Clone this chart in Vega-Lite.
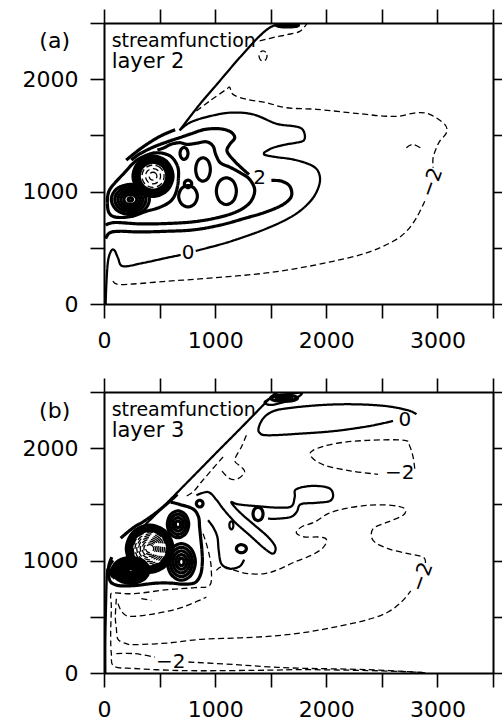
{
"$schema":"https://vega.github.io/schema/vega-lite/v6.json",
"background":"white",
"padding":{"left":22,"top":8,"right":0,"bottom":0},
"spacing":26,
"config":{"view":{"stroke":null},"axis":{"domainColor":"black","domainWidth":2,"tickColor":"black","tickWidth":1.6,"tickSize":14,"labelFont":"DejaVu Sans","labelFontSize":22,"labelColor":"black","labelPadding":12,"labelFlush":false,"labelOverlap":false,"grid":false,"format":"d"}},
"datasets":{
"paths":[
{"id":"a1","p":"a","k":"o","s":"zero"},{"id":"a2","p":"a","k":"o","s":"zero"},{"id":"a3","p":"a","k":"o","s":"zero"},{"id":"a4","p":"a","k":"o","s":"neg"},{"id":"a5","p":"a","k":"o","s":"neg"},{"id":"a6","p":"a","k":"o","s":"neg"},{"id":"a7","p":"a","k":"o","s":"neg"},{"id":"a8","p":"a","k":"o","s":"pos"},{"id":"a9","p":"a","k":"o","s":"pos"},{"id":"a10","p":"a","k":"o","s":"pos"},{"id":"a11","p":"a","k":"o","s":"pos"},
{"id":"a20","p":"a","k":"c","s":"pos"},{"id":"a21","p":"a","k":"c","s":"pos"},{"id":"a22","p":"a","k":"c","s":"pos"},{"id":"a23","p":"a","k":"c","s":"pos"},{"id":"a24","p":"a","k":"c","s":"pos"},{"id":"a25","p":"a","k":"c","s":"pos"},{"id":"a26","p":"a","k":"c","s":"pos"},{"id":"a27","p":"a","k":"c","s":"pos"},{"id":"a28","p":"a","k":"c","s":"pos"},{"id":"a29","p":"a","k":"c","s":"pos"},{"id":"a30","p":"a","k":"c","s":"pos"},{"id":"a31","p":"a","k":"c","s":"pos"},{"id":"a32","p":"a","k":"c","s":"pos"},{"id":"a33","p":"a","k":"c","s":"neg"},{"id":"a34","p":"a","k":"c","s":"neg"},{"id":"a35","p":"a","k":"c","s":"neg"},{"id":"a36","p":"a","k":"c","s":"pos"},{"id":"a37","p":"a","k":"c","s":"pos"},{"id":"a38","p":"a","k":"c","s":"pos"},{"id":"a39","p":"a","k":"c","s":"pos"},{"id":"a40","p":"a","k":"c","s":"pos"},{"id":"a41","p":"a","k":"c","s":"neg"},{"id":"a42","p":"a","k":"c","s":"pos"},
{"id":"b1","p":"b","k":"o","s":"zero"},{"id":"b2","p":"b","k":"o","s":"zero"},{"id":"b3","p":"b","k":"o","s":"zero"},{"id":"b4","p":"b","k":"o","s":"zero"},{"id":"b5","p":"b","k":"o","s":"zero"},{"id":"b6","p":"b","k":"o","s":"neg"},{"id":"b7","p":"b","k":"o","s":"neg"},{"id":"b8","p":"b","k":"o","s":"neg"},{"id":"b9","p":"b","k":"o","s":"neg"},{"id":"b10","p":"b","k":"o","s":"neg"},{"id":"b11","p":"b","k":"o","s":"neg"},{"id":"b12","p":"b","k":"o","s":"neg"},{"id":"b13","p":"b","k":"o","s":"neg"},{"id":"b14","p":"b","k":"o","s":"neg"},{"id":"b15","p":"b","k":"o","s":"neg"},{"id":"b16","p":"b","k":"o","s":"pos"},{"id":"b17","p":"b","k":"o","s":"pos"},{"id":"b18","p":"b","k":"o","s":"pos"},{"id":"b19","p":"b","k":"o","s":"pos"},
{"id":"b20","p":"b","k":"c","s":"pos"},{"id":"b21","p":"b","k":"c","s":"pos"},{"id":"b22","p":"b","k":"c","s":"pos"},{"id":"b23","p":"b","k":"c","s":"pos"},{"id":"b24","p":"b","k":"c","s":"pos"},{"id":"b25","p":"b","k":"c","s":"neg"},{"id":"b26","p":"b","k":"c","s":"neg"},{"id":"b27","p":"b","k":"c","s":"neg"},{"id":"b28","p":"b","k":"c","s":"neg"},{"id":"b29","p":"b","k":"c","s":"neg"},{"id":"b30","p":"b","k":"c","s":"neg"},{"id":"b31","p":"b","k":"c","s":"neg"},{"id":"b32","p":"b","k":"c","s":"neg"},{"id":"b33","p":"b","k":"c","s":"pos"},{"id":"b34","p":"b","k":"c","s":"pos"},{"id":"b35","p":"b","k":"c","s":"pos"},{"id":"b36","p":"b","k":"c","s":"pos"},{"id":"b37","p":"b","k":"c","s":"pos"},{"id":"b38","p":"b","k":"c","s":"pos"},{"id":"b39","p":"b","k":"c","s":"pos"},{"id":"b40","p":"b","k":"c","s":"pos"},{"id":"b41","p":"b","k":"c","s":"pos"},{"id":"b42","p":"b","k":"c","s":"pos"},{"id":"b43","p":"b","k":"c","s":"pos"},{"id":"b44","p":"b","k":"c","s":"pos"},{"id":"b45","p":"b","k":"c","s":"pos"},{"id":"b46","p":"b","k":"c","s":"pos"},{"id":"b47","p":"b","k":"c","s":"pos"},{"id":"b48","p":"b","k":"c","s":"pos"},{"id":"b49","p":"b","k":"c","s":"pos"},{"id":"b50","p":"b","k":"c","s":"pos"},{"id":"b51","p":"b","k":"c","s":"zero"},{"id":"b52","p":"b","k":"c","s":"pos"},{"id":"b53","p":"b","k":"c","s":"pos"},{"id":"b54","p":"b","k":"c","s":"pos"},{"id":"b55","p":"b","k":"c","s":"pos"},{"id":"b56","p":"b","k":"c","s":"zero"}
],
"labs":[
{"p":"a","t":"0","x":756,"y":450,"r":0},{"p":"a","t":"2","x":1400,"y":1125,"r":0},{"p":"a","t":"−2","x":2950,"y":1080,"r":1},
{"p":"b","t":"0","x":2706,"y":2254,"r":0},{"p":"b","t":"−2","x":2661,"y":1780,"r":0},{"p":"b","t":"−2","x":2862,"y":854,"r":1},{"p":"b","t":"−2","x":600,"y":100,"r":0}
],
"pts":[
{"id":"a1","x":15,"y":0},{"id":"a1","x":21,"y":172},{"id":"a1","x":36,"y":380},{"id":"a1","x":66,"y":475},{"id":"a1","x":96,"y":475},{"id":"a1","x":126,"y":410},{"id":"a1","x":171,"y":336},{"id":"a1","x":351,"y":365},{"id":"a1","x":561,"y":410},{"id":"a1","x":690,"y":436},
{"id":"a2","x":825,"y":472},{"id":"a2","x":1011,"y":520},{"id":"a2","x":1161,"y":564},{"id":"a2","x":1401,"y":647},{"id":"a2","x":1611,"y":737},{"id":"a2","x":1761,"y":826},{"id":"a2","x":1881,"y":944},{"id":"a2","x":1941,"y":1078},{"id":"a2","x":1926,"y":1182},{"id":"a2","x":1851,"y":1241},{"id":"a2","x":1701,"y":1286},{"id":"a2","x":1551,"y":1307},{"id":"a2","x":1452,"y":1325},{"id":"a2","x":1440,"y":1345},{"id":"a2","x":1461,"y":1360},{"id":"a2","x":1521,"y":1390},{"id":"a2","x":1641,"y":1420},{"id":"a2","x":1731,"y":1435},{"id":"a2","x":1797,"y":1455},{"id":"a2","x":1806,"y":1509},{"id":"a2","x":1776,"y":1562},{"id":"a2","x":1701,"y":1583},{"id":"a2","x":1551,"y":1604},{"id":"a2","x":1341,"y":1687},{"id":"a2","x":1131,"y":1702},{"id":"a2","x":921,"y":1663},{"id":"a2","x":771,"y":1613},{"id":"a2","x":681,"y":1545},
{"id":"a3","x":681,"y":1545},{"id":"a3","x":861,"y":1776},{"id":"a3","x":1041,"y":1984},{"id":"a3","x":1221,"y":2192},{"id":"a3","x":1401,"y":2385},{"id":"a3","x":1521,"y":2474},{"id":"a3","x":1640,"y":2492},{"id":"a3","x":1770,"y":2500},
{"id":"a4","x":831,"y":1717},{"id":"a4","x":951,"y":1806},{"id":"a4","x":1101,"y":1910},{"id":"a4","x":1131,"y":1928},{"id":"a4","x":1161,"y":1865},{"id":"a4","x":1281,"y":1821},{"id":"a4","x":1461,"y":1791},{"id":"a4","x":1641,"y":1746},{"id":"a4","x":1911,"y":1732},{"id":"a4","x":2211,"y":1702},{"id":"a4","x":2361,"y":1687},{"id":"a4","x":2511,"y":1672},{"id":"a4","x":2661,"y":1672},{"id":"a4","x":2811,"y":1702},{"id":"a4","x":2931,"y":1687},{"id":"a4","x":3066,"y":1598},{"id":"a4","x":3081,"y":1524},{"id":"a4","x":3021,"y":1449},{"id":"a4","x":2991,"y":1390},{"id":"a4","x":2961,"y":1301},{"id":"a4","x":2961,"y":1212},
{"id":"a5","x":2886,"y":915},{"id":"a5","x":2811,"y":766},{"id":"a5","x":2721,"y":647},{"id":"a5","x":2601,"y":558},{"id":"a5","x":2361,"y":454},{"id":"a5","x":2061,"y":380},{"id":"a5","x":1761,"y":321},{"id":"a5","x":1461,"y":276},{"id":"a5","x":1161,"y":247},{"id":"a5","x":861,"y":223},{"id":"a5","x":561,"y":202},{"id":"a5","x":261,"y":178},{"id":"a5","x":111,"y":178},{"id":"a5","x":66,"y":232},
{"id":"a6","x":2721,"y":1390},{"id":"a6","x":2781,"y":1420},{"id":"a6","x":2871,"y":1375},
{"id":"a7","x":1401,"y":2340},{"id":"a7","x":1520,"y":2370},{"id":"a7","x":1641,"y":2395},{"id":"a7","x":1761,"y":2425},{"id":"a7","x":1830,"y":2500},
{"id":"a8","x":15,"y":582},{"id":"a8","x":51,"y":633},{"id":"a8","x":141,"y":647},{"id":"a8","x":321,"y":641},{"id":"a8","x":561,"y":647},{"id":"a8","x":801,"y":659},{"id":"a8","x":1041,"y":701},{"id":"a8","x":1281,"y":766},{"id":"a8","x":1461,"y":820},{"id":"a8","x":1611,"y":885},{"id":"a8","x":1686,"y":959},{"id":"a8","x":1671,"y":1048},{"id":"a8","x":1596,"y":1093},{"id":"a8","x":1506,"y":1099},
{"id":"a9","x":1305,"y":1152},{"id":"a9","x":1236,"y":1212},{"id":"a9","x":1161,"y":1286},{"id":"a9","x":1107,"y":1360},{"id":"a9","x":1131,"y":1420},{"id":"a9","x":1176,"y":1479},{"id":"a9","x":1137,"y":1533},{"id":"a9","x":1041,"y":1559},{"id":"a9","x":906,"y":1553},{"id":"a9","x":786,"y":1515},{"id":"a9","x":681,"y":1480},{"id":"a9","x":561,"y":1440},{"id":"a9","x":441,"y":1395},{"id":"a9","x":321,"y":1335},{"id":"a9","x":246,"y":1280},
{"id":"a10","x":15,"y":701},{"id":"a10","x":96,"y":725},{"id":"a10","x":321,"y":713},{"id":"a10","x":561,"y":716},{"id":"a10","x":801,"y":731},{"id":"a10","x":1011,"y":766},{"id":"a10","x":1191,"y":820},{"id":"a10","x":1311,"y":900},{"id":"a10","x":1356,"y":1010},{"id":"a10","x":1311,"y":1108},{"id":"a10","x":1227,"y":1167},{"id":"a10","x":1131,"y":1218},{"id":"a10","x":1047,"y":1256},{"id":"a10","x":1005,"y":1331},{"id":"a10","x":981,"y":1405},{"id":"a10","x":921,"y":1443},{"id":"a10","x":831,"y":1430},{"id":"a10","x":747,"y":1420},{"id":"a10","x":681,"y":1435},{"id":"a10","x":600,"y":1420},{"id":"a10","x":540,"y":1390},{"id":"a10","x":480,"y":1370},
{"id":"a11","x":200,"y":1280},{"id":"a11","x":340,"y":1390},{"id":"a11","x":500,"y":1490},{"id":"a11","x":640,"y":1550},
{"id":"a20","x":330,"y":1300},{"id":"a20","x":460,"y":1345},{"id":"a20","x":590,"y":1320},{"id":"a20","x":660,"y":1230},{"id":"a20","x":670,"y":1123},{"id":"a20","x":650,"y":1000},{"id":"a20","x":600,"y":915},{"id":"a20","x":501,"y":860},{"id":"a20","x":381,"y":825},{"id":"a20","x":246,"y":779},{"id":"a20","x":111,"y":772},{"id":"a20","x":45,"y":811},{"id":"a20","x":30,"y":915},{"id":"a20","x":45,"y":1004},{"id":"a20","x":96,"y":1075},{"id":"a20","x":186,"y":1170},{"id":"a20","x":261,"y":1250},
{"id":"a21","x":408,"y":930},{"id":"a21","x":358,"y":1025},{"id":"a21","x":237,"y":1064},{"id":"a21","x":116,"y":1025},{"id":"a21","x":66,"y":930},{"id":"a21","x":116,"y":835},{"id":"a21","x":237,"y":796},{"id":"a21","x":358,"y":835},
{"id":"a22","x":377,"y":930},{"id":"a22","x":336,"y":1008},{"id":"a22","x":237,"y":1040},{"id":"a22","x":138,"y":1008},{"id":"a22","x":97,"y":930},{"id":"a22","x":138,"y":852},{"id":"a22","x":237,"y":820},{"id":"a22","x":336,"y":852},
{"id":"a23","x":349,"y":930},{"id":"a23","x":316,"y":992},{"id":"a23","x":237,"y":1018},{"id":"a23","x":158,"y":992},{"id":"a23","x":125,"y":930},{"id":"a23","x":158,"y":868},{"id":"a23","x":237,"y":842},{"id":"a23","x":316,"y":868},
{"id":"a24","x":322,"y":930},{"id":"a24","x":297,"y":977},{"id":"a24","x":237,"y":996},{"id":"a24","x":177,"y":977},{"id":"a24","x":152,"y":930},{"id":"a24","x":177,"y":883},{"id":"a24","x":237,"y":864},{"id":"a24","x":297,"y":883},
{"id":"a25","x":295,"y":930},{"id":"a25","x":278,"y":962},{"id":"a25","x":237,"y":975},{"id":"a25","x":196,"y":962},{"id":"a25","x":179,"y":930},{"id":"a25","x":196,"y":898},{"id":"a25","x":237,"y":885},{"id":"a25","x":278,"y":898},
{"id":"a26","x":257,"y":930},{"id":"a26","x":251,"y":941},{"id":"a26","x":237,"y":946},{"id":"a26","x":223,"y":941},{"id":"a26","x":217,"y":930},{"id":"a26","x":223,"y":919},{"id":"a26","x":237,"y":914},{"id":"a26","x":251,"y":919},
{"id":"a27","x":621,"y":1137},{"id":"a27","x":568,"y":1264},{"id":"a27","x":441,"y":1317},{"id":"a27","x":314,"y":1264},{"id":"a27","x":261,"y":1137},{"id":"a27","x":314,"y":1010},{"id":"a27","x":441,"y":957},{"id":"a27","x":568,"y":1010},
{"id":"a28","x":609,"y":1137},{"id":"a28","x":560,"y":1256},{"id":"a28","x":441,"y":1305},{"id":"a28","x":322,"y":1256},{"id":"a28","x":273,"y":1137},{"id":"a28","x":322,"y":1018},{"id":"a28","x":441,"y":969},{"id":"a28","x":560,"y":1018},
{"id":"a29","x":597,"y":1137},{"id":"a29","x":551,"y":1247},{"id":"a29","x":441,"y":1293},{"id":"a29","x":331,"y":1247},{"id":"a29","x":285,"y":1137},{"id":"a29","x":331,"y":1027},{"id":"a29","x":441,"y":981},{"id":"a29","x":551,"y":1027},
{"id":"a30","x":586,"y":1137},{"id":"a30","x":544,"y":1240},{"id":"a30","x":441,"y":1282},{"id":"a30","x":338,"y":1240},{"id":"a30","x":296,"y":1137},{"id":"a30","x":338,"y":1034},{"id":"a30","x":441,"y":992},{"id":"a30","x":544,"y":1034},
{"id":"a31","x":575,"y":1137},{"id":"a31","x":536,"y":1232},{"id":"a31","x":441,"y":1271},{"id":"a31","x":346,"y":1232},{"id":"a31","x":307,"y":1137},{"id":"a31","x":346,"y":1042},{"id":"a31","x":441,"y":1003},{"id":"a31","x":536,"y":1042},
{"id":"a32","x":565,"y":1137},{"id":"a32","x":529,"y":1225},{"id":"a32","x":441,"y":1261},{"id":"a32","x":353,"y":1225},{"id":"a32","x":317,"y":1137},{"id":"a32","x":353,"y":1049},{"id":"a32","x":441,"y":1013},{"id":"a32","x":529,"y":1049},
{"id":"a33","x":541,"y":1137},{"id":"a33","x":512,"y":1208},{"id":"a33","x":441,"y":1237},{"id":"a33","x":370,"y":1208},{"id":"a33","x":341,"y":1137},{"id":"a33","x":370,"y":1066},{"id":"a33","x":441,"y":1037},{"id":"a33","x":512,"y":1066},
{"id":"a34","x":509,"y":1137},{"id":"a34","x":489,"y":1185},{"id":"a34","x":441,"y":1205},{"id":"a34","x":393,"y":1185},{"id":"a34","x":373,"y":1137},{"id":"a34","x":393,"y":1089},{"id":"a34","x":441,"y":1069},{"id":"a34","x":489,"y":1089},
{"id":"a35","x":476,"y":1137},{"id":"a35","x":466,"y":1162},{"id":"a35","x":441,"y":1172},{"id":"a35","x":416,"y":1162},{"id":"a35","x":406,"y":1137},{"id":"a35","x":416,"y":1112},{"id":"a35","x":441,"y":1102},{"id":"a35","x":466,"y":1112},
{"id":"a36","x":756,"y":1340},{"id":"a36","x":745,"y":1377},{"id":"a36","x":720,"y":1393},{"id":"a36","x":695,"y":1377},{"id":"a36","x":684,"y":1340},{"id":"a36","x":695,"y":1303},{"id":"a36","x":720,"y":1287},{"id":"a36","x":745,"y":1303},
{"id":"a37","x":957,"y":1197},{"id":"a37","x":938,"y":1271},{"id":"a37","x":891,"y":1301},{"id":"a37","x":844,"y":1271},{"id":"a37","x":825,"y":1197},{"id":"a37","x":844,"y":1123},{"id":"a37","x":891,"y":1093},{"id":"a37","x":938,"y":1123},
{"id":"a38","x":1191,"y":1004},{"id":"a38","x":1165,"y":1088},{"id":"a38","x":1101,"y":1123},{"id":"a38","x":1037,"y":1088},{"id":"a38","x":1011,"y":1004},{"id":"a38","x":1037,"y":920},{"id":"a38","x":1101,"y":885},{"id":"a38","x":1165,"y":920},
{"id":"a39","x":789,"y":1069},{"id":"a39","x":779,"y":1092},{"id":"a39","x":756,"y":1102},{"id":"a39","x":733,"y":1092},{"id":"a39","x":723,"y":1069},{"id":"a39","x":733,"y":1046},{"id":"a39","x":756,"y":1036},{"id":"a39","x":779,"y":1046},
{"id":"a40","x":840,"y":959},{"id":"a40","x":815,"y":1026},{"id":"a40","x":756,"y":1054},{"id":"a40","x":697,"y":1026},{"id":"a40","x":672,"y":959},{"id":"a40","x":697,"y":892},{"id":"a40","x":756,"y":864},{"id":"a40","x":815,"y":892},
{"id":"a41","x":1467,"y":2207},{"id":"a41","x":1456,"y":2239},{"id":"a41","x":1431,"y":2252},{"id":"a41","x":1406,"y":2239},{"id":"a41","x":1395,"y":2207},{"id":"a41","x":1406,"y":2175},{"id":"a41","x":1431,"y":2162},{"id":"a41","x":1456,"y":2175},
{"id":"a42","x":1750,"y":2480},{"id":"a42","x":1720,"y":2491},{"id":"a42","x":1650,"y":2495},{"id":"a42","x":1580,"y":2491},{"id":"a42","x":1550,"y":2480},{"id":"a42","x":1580,"y":2469},{"id":"a42","x":1650,"y":2465},{"id":"a42","x":1720,"y":2469},
{"id":"b1","x":12,"y":0},{"id":"b1","x":12,"y":291},{"id":"b1","x":18,"y":587},{"id":"b1","x":24,"y":824},{"id":"b1","x":30,"y":930},
{"id":"b2","x":360,"y":1310},{"id":"b2","x":440,"y":1387},{"id":"b2","x":576,"y":1522},{"id":"b2","x":726,"y":1673},{"id":"b2","x":876,"y":1824},{"id":"b2","x":1026,"y":1975},{"id":"b2","x":1176,"y":2124},{"id":"b2","x":1326,"y":2275},{"id":"b2","x":1446,"y":2397},{"id":"b2","x":1521,"y":2471},{"id":"b2","x":1566,"y":2500},
{"id":"b3","x":2601,"y":2242},{"id":"b3","x":2376,"y":2195},{"id":"b3","x":2076,"y":2153},{"id":"b3","x":1776,"y":2130},{"id":"b3","x":1476,"y":2115},{"id":"b3","x":1401,"y":2136},{"id":"b3","x":1392,"y":2183},{"id":"b3","x":1431,"y":2263},{"id":"b3","x":1506,"y":2322},{"id":"b3","x":1626,"y":2352},{"id":"b3","x":1926,"y":2382},{"id":"b3","x":2226,"y":2391},{"id":"b3","x":2526,"y":2376},{"id":"b3","x":2736,"y":2337},{"id":"b3","x":2811,"y":2302},
{"id":"b4","x":831,"y":1581},{"id":"b4","x":936,"y":1610},{"id":"b4","x":1011,"y":1542},{"id":"b4","x":1071,"y":1462},{"id":"b4","x":1176,"y":1344},{"id":"b4","x":1311,"y":1225},{"id":"b4","x":1446,"y":1106},{"id":"b4","x":1521,"y":1062},{"id":"b4","x":1542,"y":1121},{"id":"b4","x":1476,"y":1210},{"id":"b4","x":1356,"y":1314},{"id":"b4","x":1251,"y":1403},{"id":"b4","x":1176,"y":1477},{"id":"b4","x":1146,"y":1521},{"id":"b4","x":1206,"y":1501},{"id":"b4","x":1356,"y":1486},{"id":"b4","x":1566,"y":1471},{"id":"b4","x":1686,"y":1483},{"id":"b4","x":1716,"y":1566},{"id":"b4","x":1728,"y":1634},{"id":"b4","x":1866,"y":1664},{"id":"b4","x":2016,"y":1649},{"id":"b4","x":2061,"y":1590},{"id":"b4","x":2031,"y":1530},{"id":"b4","x":1896,"y":1513},{"id":"b4","x":1770,"y":1501},{"id":"b4","x":1734,"y":1433},{"id":"b4","x":1680,"y":1388},{"id":"b4","x":1566,"y":1373},{"id":"b4","x":1476,"y":1373},
{"id":"b5","x":936,"y":1358},{"id":"b5","x":981,"y":1299},{"id":"b5","x":1020,"y":1210},{"id":"b5","x":1032,"y":1091},{"id":"b5","x":1056,"y":972},{"id":"b5","x":1131,"y":928},{"id":"b5","x":1221,"y":949},{"id":"b5","x":1260,"y":1008},
{"id":"b6","x":2796,"y":1818},{"id":"b6","x":2781,"y":1922},{"id":"b6","x":2751,"y":2017},{"id":"b6","x":2706,"y":2070},{"id":"b6","x":2376,"y":2070},{"id":"b6","x":2076,"y":2041},{"id":"b6","x":1881,"y":1981},{"id":"b6","x":1866,"y":1922},{"id":"b6","x":1986,"y":1848},{"id":"b6","x":2226,"y":1797},{"id":"b6","x":2466,"y":1768},
{"id":"b7","x":1281,"y":2115},{"id":"b7","x":1236,"y":2011},{"id":"b7","x":1176,"y":1892},{"id":"b7","x":1236,"y":1833},{"id":"b7","x":1266,"y":1788},{"id":"b7","x":1206,"y":1729},{"id":"b7","x":1131,"y":1729},{"id":"b7","x":1056,"y":1803},
{"id":"b8","x":1071,"y":1922},{"id":"b8","x":966,"y":1803},{"id":"b8","x":876,"y":1699},{"id":"b8","x":801,"y":1610},{"id":"b8","x":726,"y":1566},
{"id":"b9","x":891,"y":1240},{"id":"b9","x":921,"y":1151},{"id":"b9","x":951,"y":1032},{"id":"b9","x":966,"y":913},{"id":"b9","x":951,"y":780},{"id":"b9","x":816,"y":759},{"id":"b9","x":576,"y":742},{"id":"b9","x":276,"y":706},{"id":"b9","x":90,"y":712},{"id":"b9","x":60,"y":690},{"id":"b9","x":66,"y":587},{"id":"b9","x":60,"y":350},{"id":"b9","x":66,"y":172},{"id":"b9","x":90,"y":60},{"id":"b9","x":276,"y":40},{"id":"b9","x":576,"y":25},{"id":"b9","x":876,"y":20},{"id":"b9","x":1476,"y":25},{"id":"b9","x":1776,"y":30},{"id":"b9","x":2376,"y":22},{"id":"b9","x":2796,"y":8},{"id":"b9","x":2900,"y":0},
{"id":"b10","x":126,"y":617},{"id":"b10","x":162,"y":543},{"id":"b10","x":231,"y":504},{"id":"b10","x":426,"y":522},{"id":"b10","x":666,"y":572},{"id":"b10","x":846,"y":641},{"id":"b10","x":921,"y":676},
{"id":"b11","x":336,"y":661},{"id":"b11","x":426,"y":646},
{"id":"b12","x":111,"y":661},{"id":"b12","x":102,"y":498},{"id":"b12","x":111,"y":400},{"id":"b12","x":126,"y":300},{"id":"b12","x":200,"y":262},{"id":"b12","x":276,"y":252},{"id":"b12","x":576,"y":267},{"id":"b12","x":876,"y":300},{"id":"b12","x":1176,"y":311},{"id":"b12","x":1476,"y":326},{"id":"b12","x":1776,"y":356},{"id":"b12","x":2076,"y":409},{"id":"b12","x":2376,"y":475},{"id":"b12","x":2556,"y":543},{"id":"b12","x":2676,"y":632},{"id":"b12","x":2760,"y":730},
{"id":"b13","x":2892,"y":979},{"id":"b13","x":2871,"y":1032},{"id":"b13","x":2736,"y":1062},{"id":"b13","x":2556,"y":1106},{"id":"b13","x":2421,"y":1180},{"id":"b13","x":2421,"y":1284},{"id":"b13","x":2556,"y":1344},{"id":"b13","x":2691,"y":1403},{"id":"b13","x":2706,"y":1462},{"id":"b13","x":2586,"y":1492},{"id":"b13","x":2376,"y":1492},{"id":"b13","x":2166,"y":1462},{"id":"b13","x":2016,"y":1418},{"id":"b13","x":1896,"y":1344},{"id":"b13","x":1776,"y":1299},{"id":"b13","x":1731,"y":1246},{"id":"b13","x":1806,"y":1210},{"id":"b13","x":1926,"y":1210},{"id":"b13","x":2001,"y":1189},{"id":"b13","x":1971,"y":1115},{"id":"b13","x":1866,"y":1047},{"id":"b13","x":1716,"y":988},{"id":"b13","x":1566,"y":919},{"id":"b13","x":1446,"y":884},{"id":"b13","x":1296,"y":884},{"id":"b13","x":1176,"y":913},{"id":"b13","x":1071,"y":949},{"id":"b13","x":1011,"y":913},
{"id":"b14","x":111,"y":172},{"id":"b14","x":276,"y":172},{"id":"b14","x":456,"y":142},
{"id":"b15","x":760,"y":98},{"id":"b15","x":1176,"y":75},{"id":"b15","x":1476,"y":55},{"id":"b15","x":1776,"y":42},{"id":"b15","x":2376,"y":30},{"id":"b15","x":2886,"y":3},
{"id":"b16","x":600,"y":1520},{"id":"b16","x":680,"y":1500},{"id":"b16","x":800,"y":1460},{"id":"b16","x":850,"y":1390},{"id":"b16","x":860,"y":1300},{"id":"b16","x":870,"y":1200},{"id":"b16","x":880,"y":1100},{"id":"b16","x":885,"y":990},{"id":"b16","x":870,"y":880},{"id":"b16","x":820,"y":805},{"id":"b16","x":720,"y":790},{"id":"b16","x":600,"y":800},{"id":"b16","x":480,"y":800},{"id":"b16","x":380,"y":790},{"id":"b16","x":300,"y":780},{"id":"b16","x":200,"y":775},{"id":"b16","x":120,"y":780},{"id":"b16","x":60,"y":810},{"id":"b16","x":40,"y":880},{"id":"b16","x":45,"y":960},{"id":"b16","x":70,"y":1030},
{"id":"b17","x":150,"y":1200},{"id":"b17","x":260,"y":1290},{"id":"b17","x":360,"y":1350},{"id":"b17","x":460,"y":1420},{"id":"b17","x":560,"y":1500},{"id":"b17","x":660,"y":1590},
{"id":"b18","x":81,"y":1002},{"id":"b18","x":42,"y":928},{"id":"b18","x":81,"y":854},
{"id":"b19","x":111,"y":973},{"id":"b19","x":66,"y":913},{"id":"b19","x":96,"y":839},
{"id":"b20","x":621,"y":1106},{"id":"b20","x":559,"y":1254},{"id":"b20","x":411,"y":1316},{"id":"b20","x":263,"y":1254},{"id":"b20","x":201,"y":1106},{"id":"b20","x":263,"y":958},{"id":"b20","x":411,"y":896},{"id":"b20","x":559,"y":958},
{"id":"b21","x":609,"y":1106},{"id":"b21","x":551,"y":1246},{"id":"b21","x":411,"y":1304},{"id":"b21","x":271,"y":1246},{"id":"b21","x":213,"y":1106},{"id":"b21","x":271,"y":966},{"id":"b21","x":411,"y":908},{"id":"b21","x":551,"y":966},
{"id":"b22","x":597,"y":1106},{"id":"b22","x":543,"y":1238},{"id":"b22","x":411,"y":1292},{"id":"b22","x":279,"y":1238},{"id":"b22","x":225,"y":1106},{"id":"b22","x":279,"y":974},{"id":"b22","x":411,"y":920},{"id":"b22","x":543,"y":974},
{"id":"b23","x":585,"y":1106},{"id":"b23","x":534,"y":1229},{"id":"b23","x":411,"y":1280},{"id":"b23","x":288,"y":1229},{"id":"b23","x":237,"y":1106},{"id":"b23","x":288,"y":983},{"id":"b23","x":411,"y":932},{"id":"b23","x":534,"y":983},
{"id":"b24","x":573,"y":1106},{"id":"b24","x":526,"y":1221},{"id":"b24","x":411,"y":1268},{"id":"b24","x":296,"y":1221},{"id":"b24","x":249,"y":1106},{"id":"b24","x":296,"y":991},{"id":"b24","x":411,"y":944},{"id":"b24","x":526,"y":991},
{"id":"b25","x":559,"y":1106},{"id":"b25","x":516,"y":1211},{"id":"b25","x":411,"y":1254},{"id":"b25","x":306,"y":1211},{"id":"b25","x":263,"y":1106},{"id":"b25","x":306,"y":1001},{"id":"b25","x":411,"y":958},{"id":"b25","x":516,"y":1001},
{"id":"b26","x":543,"y":1106},{"id":"b26","x":504,"y":1199},{"id":"b26","x":411,"y":1238},{"id":"b26","x":318,"y":1199},{"id":"b26","x":279,"y":1106},{"id":"b26","x":318,"y":1013},{"id":"b26","x":411,"y":974},{"id":"b26","x":504,"y":1013},
{"id":"b27","x":527,"y":1106},{"id":"b27","x":493,"y":1188},{"id":"b27","x":411,"y":1222},{"id":"b27","x":329,"y":1188},{"id":"b27","x":295,"y":1106},{"id":"b27","x":329,"y":1024},{"id":"b27","x":411,"y":990},{"id":"b27","x":493,"y":1024},
{"id":"b28","x":511,"y":1106},{"id":"b28","x":482,"y":1177},{"id":"b28","x":411,"y":1206},{"id":"b28","x":340,"y":1177},{"id":"b28","x":311,"y":1106},{"id":"b28","x":340,"y":1035},{"id":"b28","x":411,"y":1006},{"id":"b28","x":482,"y":1035},
{"id":"b29","x":495,"y":1106},{"id":"b29","x":470,"y":1165},{"id":"b29","x":411,"y":1190},{"id":"b29","x":352,"y":1165},{"id":"b29","x":327,"y":1106},{"id":"b29","x":352,"y":1047},{"id":"b29","x":411,"y":1022},{"id":"b29","x":470,"y":1047},
{"id":"b30","x":479,"y":1106},{"id":"b30","x":459,"y":1154},{"id":"b30","x":411,"y":1174},{"id":"b30","x":363,"y":1154},{"id":"b30","x":343,"y":1106},{"id":"b30","x":363,"y":1058},{"id":"b30","x":411,"y":1038},{"id":"b30","x":459,"y":1058},
{"id":"b31","x":463,"y":1106},{"id":"b31","x":448,"y":1143},{"id":"b31","x":411,"y":1158},{"id":"b31","x":374,"y":1143},{"id":"b31","x":359,"y":1106},{"id":"b31","x":374,"y":1069},{"id":"b31","x":411,"y":1054},{"id":"b31","x":448,"y":1069},
{"id":"b32","x":447,"y":1106},{"id":"b32","x":436,"y":1131},{"id":"b32","x":411,"y":1142},{"id":"b32","x":386,"y":1131},{"id":"b32","x":375,"y":1106},{"id":"b32","x":386,"y":1081},{"id":"b32","x":411,"y":1070},{"id":"b32","x":436,"y":1081},
{"id":"b33","x":405,"y":913},{"id":"b33","x":357,"y":994},{"id":"b33","x":240,"y":1028},{"id":"b33","x":123,"y":994},{"id":"b33","x":75,"y":913},{"id":"b33","x":123,"y":832},{"id":"b33","x":240,"y":798},{"id":"b33","x":357,"y":832},
{"id":"b34","x":385,"y":913},{"id":"b34","x":343,"y":984},{"id":"b34","x":240,"y":1013},{"id":"b34","x":137,"y":984},{"id":"b34","x":95,"y":913},{"id":"b34","x":137,"y":842},{"id":"b34","x":240,"y":813},{"id":"b34","x":343,"y":842},
{"id":"b35","x":365,"y":913},{"id":"b35","x":328,"y":974},{"id":"b35","x":240,"y":999},{"id":"b35","x":152,"y":974},{"id":"b35","x":115,"y":913},{"id":"b35","x":152,"y":852},{"id":"b35","x":240,"y":827},{"id":"b35","x":328,"y":852},
{"id":"b36","x":345,"y":913},{"id":"b36","x":314,"y":964},{"id":"b36","x":240,"y":985},{"id":"b36","x":166,"y":964},{"id":"b36","x":135,"y":913},{"id":"b36","x":166,"y":862},{"id":"b36","x":240,"y":841},{"id":"b36","x":314,"y":862},
{"id":"b37","x":325,"y":913},{"id":"b37","x":300,"y":954},{"id":"b37","x":240,"y":971},{"id":"b37","x":180,"y":954},{"id":"b37","x":155,"y":913},{"id":"b37","x":180,"y":872},{"id":"b37","x":240,"y":855},{"id":"b37","x":300,"y":872},
{"id":"b38","x":305,"y":913},{"id":"b38","x":286,"y":945},{"id":"b38","x":240,"y":958},{"id":"b38","x":194,"y":945},{"id":"b38","x":175,"y":913},{"id":"b38","x":194,"y":881},{"id":"b38","x":240,"y":868},{"id":"b38","x":286,"y":881},
{"id":"b39","x":285,"y":913},{"id":"b39","x":272,"y":935},{"id":"b39","x":240,"y":944},{"id":"b39","x":208,"y":935},{"id":"b39","x":195,"y":913},{"id":"b39","x":208,"y":891},{"id":"b39","x":240,"y":882},{"id":"b39","x":272,"y":891},
{"id":"b40","x":265,"y":913},{"id":"b40","x":258,"y":925},{"id":"b40","x":240,"y":930},{"id":"b40","x":222,"y":925},{"id":"b40","x":215,"y":913},{"id":"b40","x":222,"y":901},{"id":"b40","x":240,"y":896},{"id":"b40","x":258,"y":901},
{"id":"b41","x":822,"y":988},{"id":"b41","x":785,"y":1103},{"id":"b41","x":696,"y":1151},{"id":"b41","x":607,"y":1103},{"id":"b41","x":570,"y":988},{"id":"b41","x":607,"y":873},{"id":"b41","x":696,"y":825},{"id":"b41","x":785,"y":873},
{"id":"b42","x":796,"y":988},{"id":"b42","x":767,"y":1080},{"id":"b42","x":696,"y":1118},{"id":"b42","x":625,"y":1080},{"id":"b42","x":596,"y":988},{"id":"b42","x":625,"y":896},{"id":"b42","x":696,"y":858},{"id":"b42","x":767,"y":896},
{"id":"b43","x":771,"y":988},{"id":"b43","x":749,"y":1057},{"id":"b43","x":696,"y":1086},{"id":"b43","x":643,"y":1057},{"id":"b43","x":621,"y":988},{"id":"b43","x":643,"y":919},{"id":"b43","x":696,"y":890},{"id":"b43","x":749,"y":919},
{"id":"b44","x":746,"y":988},{"id":"b44","x":731,"y":1034},{"id":"b44","x":696,"y":1053},{"id":"b44","x":661,"y":1034},{"id":"b44","x":646,"y":988},{"id":"b44","x":661,"y":942},{"id":"b44","x":696,"y":923},{"id":"b44","x":731,"y":942},
{"id":"b45","x":721,"y":988},{"id":"b45","x":714,"y":1011},{"id":"b45","x":696,"y":1021},{"id":"b45","x":678,"y":1011},{"id":"b45","x":671,"y":988},{"id":"b45","x":678,"y":965},{"id":"b45","x":696,"y":955},{"id":"b45","x":714,"y":965},
{"id":"b46","x":762,"y":1323},{"id":"b46","x":734,"y":1407},{"id":"b46","x":666,"y":1442},{"id":"b46","x":598,"y":1407},{"id":"b46","x":570,"y":1323},{"id":"b46","x":598,"y":1239},{"id":"b46","x":666,"y":1204},{"id":"b46","x":734,"y":1239},
{"id":"b47","x":738,"y":1323},{"id":"b47","x":717,"y":1387},{"id":"b47","x":666,"y":1413},{"id":"b47","x":615,"y":1387},{"id":"b47","x":594,"y":1323},{"id":"b47","x":615,"y":1259},{"id":"b47","x":666,"y":1233},{"id":"b47","x":717,"y":1259},
{"id":"b48","x":714,"y":1323},{"id":"b48","x":700,"y":1365},{"id":"b48","x":666,"y":1383},{"id":"b48","x":632,"y":1365},{"id":"b48","x":618,"y":1323},{"id":"b48","x":632,"y":1281},{"id":"b48","x":666,"y":1263},{"id":"b48","x":700,"y":1281},
{"id":"b49","x":690,"y":1323},{"id":"b49","x":683,"y":1344},{"id":"b49","x":666,"y":1353},{"id":"b49","x":649,"y":1344},{"id":"b49","x":642,"y":1323},{"id":"b49","x":649,"y":1302},{"id":"b49","x":666,"y":1293},{"id":"b49","x":683,"y":1302},
{"id":"b50","x":1431,"y":1415},{"id":"b50","x":1418,"y":1457},{"id":"b50","x":1386,"y":1474},{"id":"b50","x":1354,"y":1457},{"id":"b50","x":1341,"y":1415},{"id":"b50","x":1354,"y":1373},{"id":"b50","x":1386,"y":1356},{"id":"b50","x":1418,"y":1373},
{"id":"b51","x":1164,"y":1314},{"id":"b51","x":1159,"y":1339},{"id":"b51","x":1146,"y":1350},{"id":"b51","x":1133,"y":1339},{"id":"b51","x":1128,"y":1314},{"id":"b51","x":1133,"y":1289},{"id":"b51","x":1146,"y":1278},{"id":"b51","x":1159,"y":1289},
{"id":"b52","x":891,"y":1507},{"id":"b52","x":882,"y":1528},{"id":"b52","x":861,"y":1537},{"id":"b52","x":840,"y":1528},{"id":"b52","x":831,"y":1507},{"id":"b52","x":840,"y":1486},{"id":"b52","x":861,"y":1477},{"id":"b52","x":882,"y":1486},
{"id":"b53","x":1281,"y":1106},{"id":"b53","x":1268,"y":1131},{"id":"b53","x":1236,"y":1142},{"id":"b53","x":1204,"y":1131},{"id":"b53","x":1191,"y":1106},{"id":"b53","x":1204,"y":1081},{"id":"b53","x":1236,"y":1070},{"id":"b53","x":1268,"y":1081},
{"id":"b54","x":1740,"y":2445},{"id":"b54","x":1705,"y":2465},{"id":"b54","x":1620,"y":2473},{"id":"b54","x":1535,"y":2465},{"id":"b54","x":1500,"y":2445},{"id":"b54","x":1535,"y":2425},{"id":"b54","x":1620,"y":2417},{"id":"b54","x":1705,"y":2425},
{"id":"b55","x":1690,"y":2445},{"id":"b55","x":1669,"y":2455},{"id":"b55","x":1620,"y":2459},{"id":"b55","x":1571,"y":2455},{"id":"b55","x":1550,"y":2445},{"id":"b55","x":1571,"y":2435},{"id":"b55","x":1620,"y":2431},{"id":"b55","x":1669,"y":2435},
{"id":"b56","x":1446,"y":2410},{"id":"b56","x":1540,"y":2460},{"id":"b56","x":1660,"y":2482},{"id":"b56","x":1780,"y":2492},{"id":"b56","x":1720,"y":2440},{"id":"b56","x":1600,"y":2405},{"id":"b56","x":1500,"y":2385}
]
},
"vconcat":[
{
"width":389,"height":281,
"resolve":{"axis":{"x":"independent","y":"independent"}},
"layer":[
{"data":{"values":[{"t":"streamfunction"}]},"mark":{"type":"text","font":"DejaVu Sans","fontSize":19,"align":"left","baseline":"alphabetic","color":"black"},"encoding":{"x":{"datum":69,"type":"quantitative","scale":{"domain":[0,3500],"nice":false,"zero":false},"axis":null},"y":{"datum":2284,"type":"quantitative","scale":{"domain":[0,2500],"nice":false,"zero":false},"axis":null},"text":{"field":"t"}}},
{"data":{"values":[{"t":"layer  2"}]},"mark":{"type":"text","font":"DejaVu Sans","fontSize":21,"align":"left","baseline":"alphabetic","color":"black"},"encoding":{"x":{"datum":69,"type":"quantitative","scale":{"domain":[0,3500],"nice":false,"zero":false},"axis":null},"y":{"datum":2100,"type":"quantitative","scale":{"domain":[0,2500],"nice":false,"zero":false},"axis":null},"text":{"field":"t"}}},
{"data":{"values":[{"t":"(a)"}]},"mark":{"type":"text","font":"DejaVu Sans","fontSize":22,"align":"center","baseline":"middle","color":"black"},"encoding":{"x":{"datum":-444,"type":"quantitative","scale":{"domain":[0,3500],"nice":false,"zero":false},"axis":null},"y":{"datum":2340,"type":"quantitative","scale":{"domain":[0,2500],"nice":false,"zero":false},"axis":null},"text":{"field":"t"}}},
{"data":{"name":"pts"},"transform":[{"lookup":"id","from":{"data":{"name":"paths"},"key":"id","fields":["p","k","s"]}},{"filter":"datum.p === 'a' && datum.k === 'o'"}],
"mark":{"type":"line","interpolate":"cardinal","clip":true},
"encoding":{
"x":{"field":"x","type":"quantitative","scale":{"domain":[0,3500],"nice":false,"zero":false},"axis":{"orient":"bottom","title":null,"values":[0,500,1000,1500,2000,2500,3000,3500],"labelExpr":"datum.value % 1000 === 0 ? datum.label : ''"}},
"y":{"field":"y","type":"quantitative","scale":{"domain":[0,2500],"nice":false,"zero":false},"axis":{"orient":"left","title":null,"values":[0,500,1000,1500,2000,2500],"labelExpr":"datum.value % 1000 === 0 ? datum.label : ''"}},
"detail":{"field":"id"},"order":{"value":null},"color":{"value":"black"},
"strokeDash":{"field":"s","type":"nominal","scale":{"domain":["neg","zero","pos"],"range":[[6,3.5],[1,0],[1,0]]},"legend":null},
"strokeWidth":{"field":"s","type":"nominal","scale":{"domain":["neg","zero","pos"],"range":[1.3,3.2,1.3]},"legend":null}}},
{"data":{"name":"pts"},"transform":[{"lookup":"id","from":{"data":{"name":"paths"},"key":"id","fields":["p","k","s"]}},{"filter":"datum.p === 'a' && datum.k === 'c'"}],
"mark":{"type":"line","interpolate":"cardinal-closed","clip":true},
"encoding":{
"x":{"field":"x","type":"quantitative","scale":{"domain":[0,3500],"nice":false,"zero":false},"axis":null},
"y":{"field":"y","type":"quantitative","scale":{"domain":[0,2500],"nice":false,"zero":false},"axis":null},
"detail":{"field":"id"},"order":{"value":null},"color":{"value":"black"},
"strokeDash":{"field":"s","type":"nominal","scale":{"domain":["neg","zero","pos"],"range":[[6,3.5],[1,0],[1,0]]},"legend":null},
"strokeWidth":{"field":"s","type":"nominal","scale":{"domain":["neg","zero","pos"],"range":[1.3,3.2,1.3]},"legend":null}}},
{"data":{"name":"labs"},"transform":[{"filter":"datum.p === 'a' && datum.r === 0"}],
"mark":{"type":"text","font":"DejaVu Sans","fontSize":20,"color":"black","baseline":"middle","align":"center"},
"encoding":{
"x":{"field":"x","type":"quantitative","scale":{"domain":[0,3500],"nice":false,"zero":false},"axis":{"orient":"top","title":null,"labels":false,"values":[0,500,1000,1500,2000,2500,3000,3500]}},
"y":{"field":"y","type":"quantitative","scale":{"domain":[0,2500],"nice":false,"zero":false},"axis":{"orient":"right","title":null,"labels":false,"tickSize":9,"values":[0,500,1000,1500,2000,2500]}},
"text":{"field":"t"}}},
{"data":{"name":"labs"},"transform":[{"filter":"datum.p === 'a' && datum.r === 1"}],
"mark":{"type":"text","font":"DejaVu Sans","fontSize":20,"color":"black","baseline":"middle","align":"center","angle":290},
"encoding":{
"x":{"field":"x","type":"quantitative","scale":{"domain":[0,3500],"nice":false,"zero":false},"axis":null},
"y":{"field":"y","type":"quantitative","scale":{"domain":[0,2500],"nice":false,"zero":false},"axis":null},
"text":{"field":"t"}}}
]
},
{
"width":389,"height":281,
"resolve":{"axis":{"x":"independent","y":"independent"}},
"layer":[
{"data":{"values":[{"t":"streamfunction"}]},"mark":{"type":"text","font":"DejaVu Sans","fontSize":19,"align":"left","baseline":"alphabetic","color":"black"},"encoding":{"x":{"datum":69,"type":"quantitative","scale":{"domain":[0,3500],"nice":false,"zero":false},"axis":null},"y":{"datum":2284,"type":"quantitative","scale":{"domain":[0,2500],"nice":false,"zero":false},"axis":null},"text":{"field":"t"}}},
{"data":{"values":[{"t":"layer  3"}]},"mark":{"type":"text","font":"DejaVu Sans","fontSize":21,"align":"left","baseline":"alphabetic","color":"black"},"encoding":{"x":{"datum":69,"type":"quantitative","scale":{"domain":[0,3500],"nice":false,"zero":false},"axis":null},"y":{"datum":2100,"type":"quantitative","scale":{"domain":[0,2500],"nice":false,"zero":false},"axis":null},"text":{"field":"t"}}},
{"data":{"values":[{"t":"(b)"}]},"mark":{"type":"text","font":"DejaVu Sans","fontSize":22,"align":"center","baseline":"middle","color":"black"},"encoding":{"x":{"datum":-444,"type":"quantitative","scale":{"domain":[0,3500],"nice":false,"zero":false},"axis":null},"y":{"datum":2330,"type":"quantitative","scale":{"domain":[0,2500],"nice":false,"zero":false},"axis":null},"text":{"field":"t"}}},
{"data":{"name":"pts"},"transform":[{"lookup":"id","from":{"data":{"name":"paths"},"key":"id","fields":["p","k","s"]}},{"filter":"datum.p === 'b' && datum.k === 'o'"}],
"mark":{"type":"line","interpolate":"cardinal","clip":true},
"encoding":{
"x":{"field":"x","type":"quantitative","scale":{"domain":[0,3500],"nice":false,"zero":false},"axis":{"orient":"bottom","title":null,"values":[0,500,1000,1500,2000,2500,3000,3500],"labelExpr":"datum.value % 1000 === 0 ? datum.label : ''"}},
"y":{"field":"y","type":"quantitative","scale":{"domain":[0,2500],"nice":false,"zero":false},"axis":{"orient":"left","title":null,"values":[0,500,1000,1500,2000,2500],"labelExpr":"datum.value % 1000 === 0 ? datum.label : ''"}},
"detail":{"field":"id"},"order":{"value":null},"color":{"value":"black"},
"strokeDash":{"field":"s","type":"nominal","scale":{"domain":["neg","zero","pos"],"range":[[6,3.5],[1,0],[1,0]]},"legend":null},
"strokeWidth":{"field":"s","type":"nominal","scale":{"domain":["neg","zero","pos"],"range":[1.3,3.2,1.3]},"legend":null}}},
{"data":{"name":"pts"},"transform":[{"lookup":"id","from":{"data":{"name":"paths"},"key":"id","fields":["p","k","s"]}},{"filter":"datum.p === 'b' && datum.k === 'c'"}],
"mark":{"type":"line","interpolate":"cardinal-closed","clip":true},
"encoding":{
"x":{"field":"x","type":"quantitative","scale":{"domain":[0,3500],"nice":false,"zero":false},"axis":null},
"y":{"field":"y","type":"quantitative","scale":{"domain":[0,2500],"nice":false,"zero":false},"axis":null},
"detail":{"field":"id"},"order":{"value":null},"color":{"value":"black"},
"strokeDash":{"field":"s","type":"nominal","scale":{"domain":["neg","zero","pos"],"range":[[6,3.5],[1,0],[1,0]]},"legend":null},
"strokeWidth":{"field":"s","type":"nominal","scale":{"domain":["neg","zero","pos"],"range":[1.3,3.2,1.3]},"legend":null}}},
{"data":{"name":"labs"},"transform":[{"filter":"datum.p === 'b' && datum.r === 0"}],
"mark":{"type":"text","font":"DejaVu Sans","fontSize":20,"color":"black","baseline":"middle","align":"center"},
"encoding":{
"x":{"field":"x","type":"quantitative","scale":{"domain":[0,3500],"nice":false,"zero":false},"axis":{"orient":"top","title":null,"labels":false,"values":[0,500,1000,1500,2000,2500,3000,3500]}},
"y":{"field":"y","type":"quantitative","scale":{"domain":[0,2500],"nice":false,"zero":false},"axis":{"orient":"right","title":null,"labels":false,"tickSize":9,"values":[0,500,1000,1500,2000,2500]}},
"text":{"field":"t"}}},
{"data":{"name":"labs"},"transform":[{"filter":"datum.p === 'b' && datum.r === 1"}],
"mark":{"type":"text","font":"DejaVu Sans","fontSize":20,"color":"black","baseline":"middle","align":"center","angle":290},
"encoding":{
"x":{"field":"x","type":"quantitative","scale":{"domain":[0,3500],"nice":false,"zero":false},"axis":null},
"y":{"field":"y","type":"quantitative","scale":{"domain":[0,2500],"nice":false,"zero":false},"axis":null},
"text":{"field":"t"}}}
]
}
]
}
